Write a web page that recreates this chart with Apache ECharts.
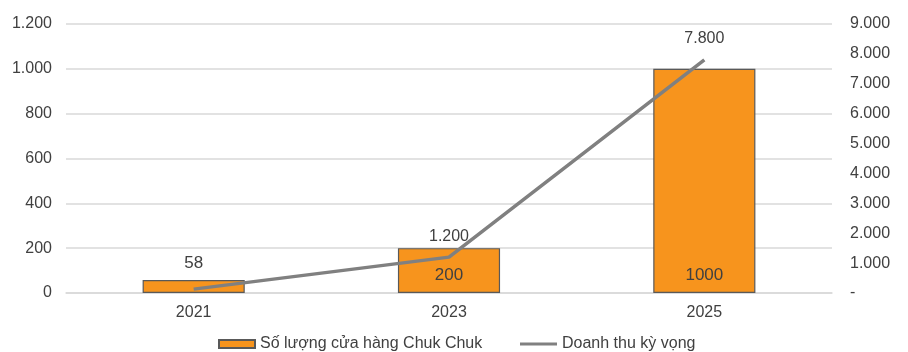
<!DOCTYPE html>
<html><head><meta charset="utf-8">
<script src="https://cdn.jsdelivr.net/npm/echarts@6/dist/echarts.min.js"></script>
<style>html,body{margin:0;padding:0;background:#fff}#c{width:908px;height:352px}</style>
</head><body><div id="c"></div>
<script>
const categories = ['2021', '2023', '2025'];
const storeCounts = [58, 200, 1000];
const revenue = [130, 1200, 7800];
const barName = 'Số lượng cửa hàng Chuk Chuk';
const lineName = 'Doanh thu kỳ vọng';

function fmt(v){ return String(v).replace(/\B(?=(\d{3})+(?!\d))/g, '.'); }

const chart = echarts.init(document.getElementById('c'));
const font = 'Liberation Sans, Arial, sans-serif';
const txt = '#404040';
chart.setOption({
  animation: false,
  textStyle: { fontFamily: font },
  grid: { left: 66, right: 76, top: 24, bottom: 59 },
  legend: [
    { left: 213, top: 331, itemWidth: 36, itemHeight: 8, icon: 'rect',
      textStyle: { fontSize: 16, color: txt, fontFamily: font },
      data: [barName] },
    { left: 515, top: 331, itemWidth: 37, itemHeight: 3, icon: 'rect',
      textStyle: { fontSize: 16, color: txt, fontFamily: font },
      data: [lineName] }
  ],
  xAxis: {
    type: 'category', data: categories,
    axisTick: { show: false },
    axisLine: { lineStyle: { color: '#d9d9d9', width: 1.5 } },
    axisLabel: { color: txt, fontSize: 16, margin: 12 }
  },
  yAxis: [
    { type: 'value', min: 0, max: 1200, interval: 200,
      axisLabel: { color: txt, fontSize: 16, margin: 14, formatter: v => fmt(v) },
      splitLine: { lineStyle: { color: '#d9d9d9', width: 1.5 } },
      axisLine: { show: false }, axisTick: { show: false } },
    { type: 'value', min: 0, max: 9000, interval: 1000,
      axisLabel: { color: txt, fontSize: 16, margin: 18, formatter: v => v === 0 ? '-' : fmt(v) },
      splitLine: { show: false }, axisLine: { show: false }, axisTick: { show: false } }
  ],
  series: [
    { name: barName, type: 'bar', barWidth: '40%', yAxisIndex: 0,
      itemStyle: { color: '#F7941D', borderColor: '#595959', borderWidth: 1.2 },
      label: { show: true, position: 'insideBottom', distance: 9, color: txt, fontSize: 17 },
      data: storeCounts.map((v, i) => i === 0
        ? { value: v, label: { position: 'top', distance: 8 } }
        : v)
    },
    { name: lineName, type: 'line', yAxisIndex: 1, symbol: 'circle', symbolSize: 0.01, showSymbol: true,
      lineStyle: { color: '#808080', width: 3.5 }, itemStyle: { color: '#808080' },
      label: { show: true, position: 'top', distance: 13, color: txt, fontSize: 16, formatter: p => fmt(p.value) },
      data: revenue.map((v, i) => i === 0 ? { value: v, label: { show: false } } : v)
    }
  ]
});
</script></body></html>
